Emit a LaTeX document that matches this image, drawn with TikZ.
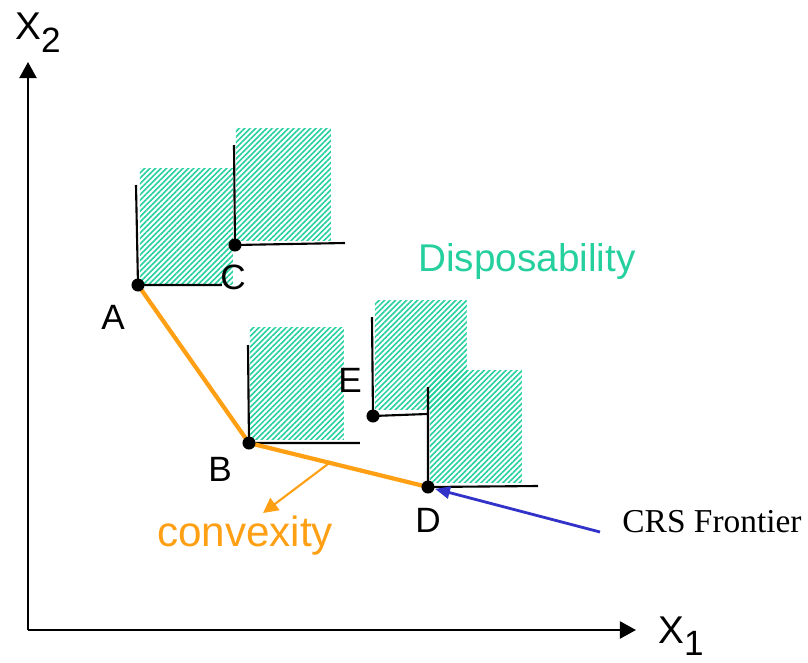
\documentclass[tikz,border=0pt]{standalone}
\usepackage{fontspec}
\setmainfont{Liberation Sans}
\newfontfamily\crsfont{Liberation Serif}
\usetikzlibrary{arrows.meta,positioning,patterns.meta}
\definecolor{dispgreen}{RGB}{38,208,158}
\definecolor{cvxorange}{RGB}{255,160,20}
\definecolor{crsblue}{RGB}{50,50,200}

\begin{document}
\begin{tikzpicture}[x=0.01cm, y=-0.01cm,
      pt/.style={circle, fill=black, inner sep=0pt, minimum size=0.13cm},
      lbl/.style={inner sep=0pt, font=\fontsize{10}{12}\selectfont},
      hatch/.style={pattern={Lines[angle=45, distance=1.1pt, line width=0.45pt]},
                    pattern color=dispgreen},
      free/.style={line width=0.6pt},
      axis/.style={line width=0.6pt, -{Triangle[length=0.16cm, width=0.17cm]}},
      front/.style={line width=1.2pt, color=cvxorange},
      cvx/.style={line width=0.6pt, color=cvxorange, -{Triangle[length=0.15cm, width=0.15cm]}},
      crs/.style={line width=0.8pt, color=crsblue, -{Triangle[length=0.15cm, width=0.12cm]}}
  ]
    \useasboundingbox (0,0) rectangle (808,663);
    % observed units
    \coordinate (A) at (138,285);
    \coordinate (C) at (235,245);
    \coordinate (B) at (249,443);
    \coordinate (E) at (373,416);
    \coordinate (D) at (428,487);
    \coordinate (O) at (28,630);
    \coordinate (x2end) at (28,62);
    \coordinate (x1end) at (636,630);

    % disposability regions
    \fill[hatch] (140,168) rectangle (233,284);
    \fill[hatch] (236,128) rectangle (331,240);
    \fill[hatch] (250,327) rectangle (344,439);
    \fill[hatch] (375,300) rectangle (467,409);
    \fill[hatch] (430,370) rectangle (522,482);
    \draw[free] (136,185) -- (A) -- (222,285);
    \draw[free] (234,145) -- (C) -- (345,243);
    \draw[free] (248,345) -- (B) -- (360,443);
    \draw[free] (372,317) -- (E) -- (427,414);
    \draw[free] (428,387) -- (D) -- (538,486);

    % axes
    \draw[axis] (O) -- (x2end);
    \draw[axis] (O) -- (x1end);
    \node[inner sep=0pt, font=\fontsize{11}{13}\selectfont] (x2) at (38,33)
      {X\raisebox{-0.13cm}{\fontsize{10}{12}\selectfont 2}};
    \node[inner sep=0pt, font=\fontsize{11}{13}\selectfont] (x1) at (681,636)
      {X\raisebox{-0.12cm}{\fontsize{10}{12}\selectfont 1}};

    % frontier
    \draw[front] (A) -- (B) -- (D);
    \path (B) -- (D) coordinate[pos=0.45] (cvstart);
    \coordinate (cvend) at (263,513);
    \draw[cvx] (cvstart) -- (cvend);

    \node[pt] (pA) at (A) {};
    \node[pt] (pC) at (C) {};
    \node[pt] (pB) at (B) {};
    \node[pt] (pE) at (E) {};
    \node[pt] (pD) at (D) {};

    \node[lbl] (lA) at (113,317) {A};
    \node[lbl] (lC) at (233,277) {C};
    \node[lbl] (lB) at (220,469) {B};
    \node[lbl] (lE) at (350,380) {E};
    \node[lbl] (lD) at (428,520) {D};

    \node[inner sep=0pt, text=dispgreen, font=\fontsize{11}{13}\selectfont] (disp) at (527,261) {Disposability};
    \node[inner sep=0pt, text=cvxorange, font=\fontsize{12}{14}\selectfont] (conv) at (245,536) {convexity};

    \node[inner sep=0pt, font=\crsfont\fontsize{9.5}{11}\selectfont] (crslbl) at (712,522) {CRS Frontier};
    \coordinate (crsstart) at (600,532);
    \draw[crs] (crsstart) -- (pD);
  \end{tikzpicture}
\end{document}
